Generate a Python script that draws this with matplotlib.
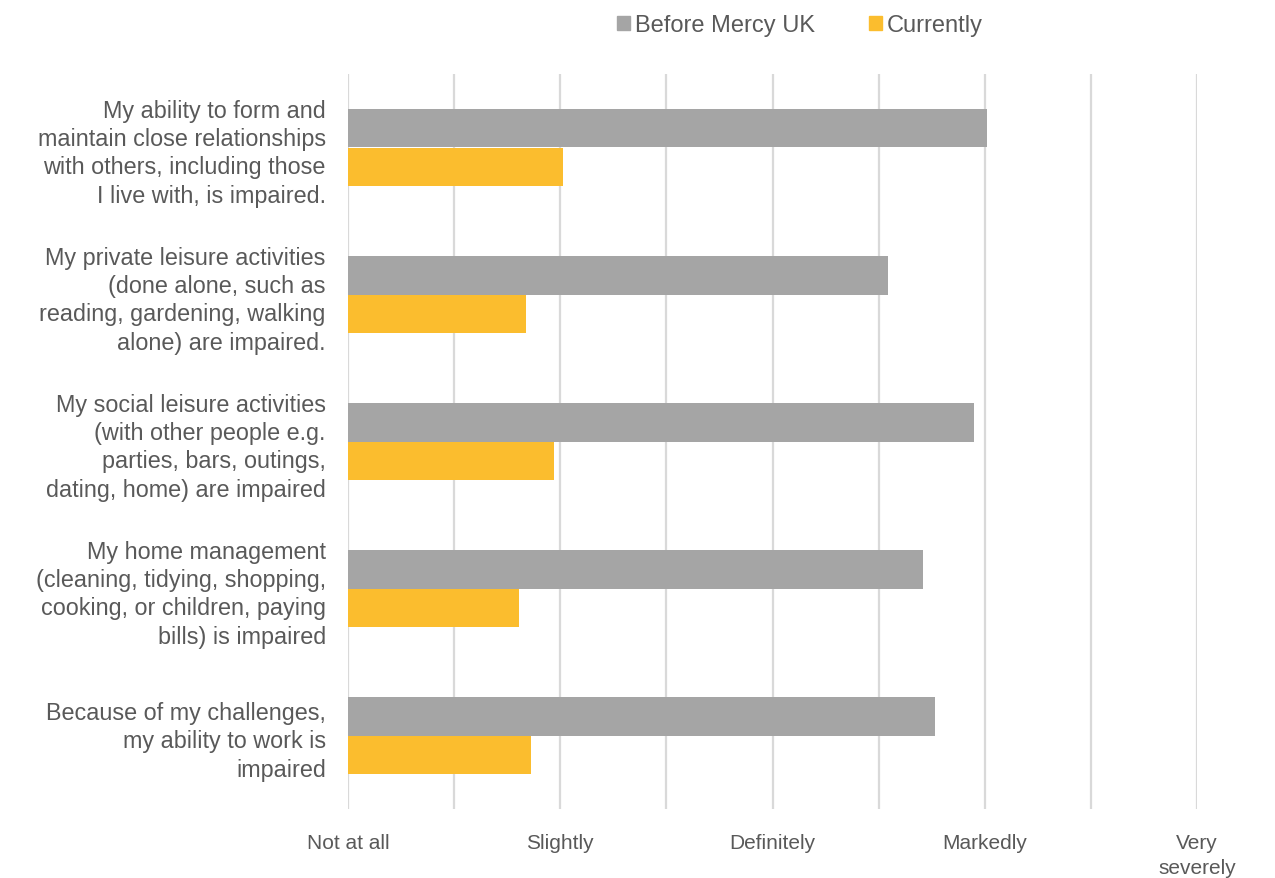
import numpy as np
import matplotlib.pyplot as plt
import matplotlib.transforms as mtransforms
from matplotlib.patches import Patch

categories = [
    "My ability to form and\nmaintain close relationships\nwith others, including those\nI live with, is impaired.",
    "My private leisure activities\n(done alone, such as\nreading, gardening, walking\nalone) are impaired.",
    "My social leisure activities\n(with other people e.g.\nparties, bars, outings,\ndating, home) are impaired",
    "My home management\n(cleaning, tidying, shopping,\ncooking, or children, paying\nbills) is impaired",
    "Because of my challenges,\nmy ability to work is\nimpaired",
]
before = [6.02, 5.09, 5.90, 5.42, 5.53]
currently = [2.03, 1.68, 1.94, 1.61, 1.72]
tick_values = [0, 2, 4, 6, 8]
tick_labels = ["Not at all", "Slightly", "Definitely", "Markedly", "Very\nseverely"]

grey = "#a5a5a5"
yellow = "#fbbd2e"
text_col = "#595959"

plt.rcParams['font.family'] = ['Liberation Sans', 'DejaVu Sans']

fig = plt.figure(figsize=(12.75, 8.79), dpi=100)
ax = fig.add_axes([348 / 1275, 69 / 879, 849 / 1275, 735 / 879])

y = np.arange(len(categories))
h = 0.26
ax.barh(y - h / 2, before, height=h, color=grey, zorder=3)
ax.barh(y + h / 2, currently, height=h, color=yellow, zorder=3)

ax.set_ylim(len(categories) - 0.5, -0.5)
ax.set_xlim(0, 8)
ax.set_yticks(y)
ax.set_yticklabels(categories, fontsize=16.8, color=text_col, linespacing=1.3)
# nudge the category labels up a little
shift = mtransforms.ScaledTranslation(0, 3 / 100, fig.dpi_scale_trans)
for lbl in ax.get_yticklabels():
    lbl.set_transform(lbl.get_transform() + shift)
ax.set_xticks(tick_values)
ax.set_xticklabels(tick_labels, fontsize=15, color=text_col, va='top', linespacing=1.4)
ax.set_xticks(np.arange(0, 9, 1), minor=True)
ax.tick_params(axis='y', length=0, pad=16)
ax.tick_params(axis='x', which='both', length=0, pad=17)

ax.grid(axis='x', which='both', color='#d9d9d9', linewidth=1.6, zorder=0)
for s in ax.spines.values():
    s.set_visible(False)

handles = [Patch(color=grey, label="Before Mercy UK"),
           Patch(color=yellow, label="Currently")]
fig.legend(handles=handles, loc='center', bbox_to_anchor=(800 / 1275, 1 - 26 / 879),
           ncol=2, frameon=False, fontsize=17, labelcolor=text_col,
           handlelength=0.55, handleheight=0.55, handletextpad=0.2, columnspacing=2.3)

fig.savefig("out.png", dpi=100)
